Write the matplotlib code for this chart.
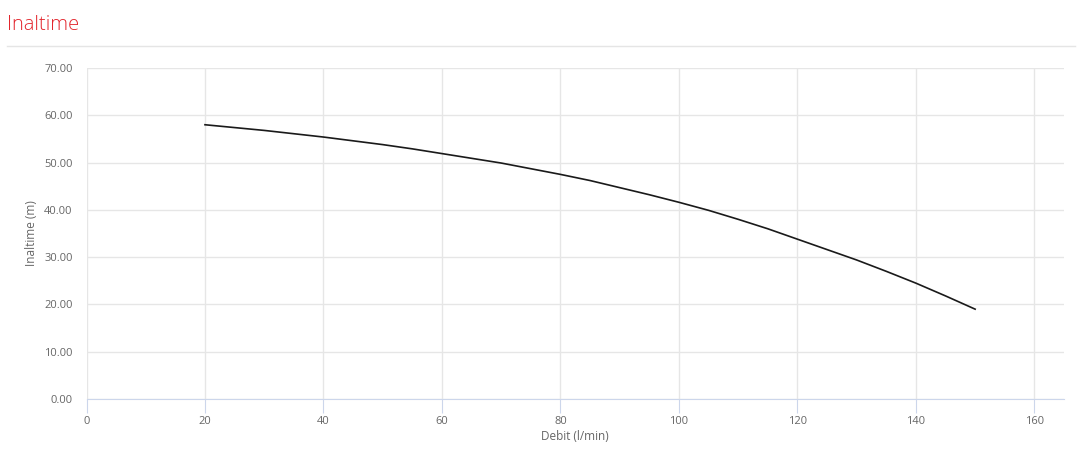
import numpy as np
import matplotlib.pyplot as plt
from matplotlib.lines import Line2D

plt.rcParams['font.family'] = ['Open Sans', 'DejaVu Sans']

debit = [20, 25, 30, 35, 40, 45, 50, 55, 60, 65, 70, 75, 80, 85, 90, 95,
         100, 105, 110, 115, 120, 125, 130, 135, 140, 145, 150]
inaltime = [58.0, 57.4, 56.8, 56.1, 55.4, 54.6, 53.8, 52.9, 51.9, 50.9, 49.9, 48.7,
            47.5, 46.2, 44.7, 43.2, 41.6, 39.9, 38.0, 36.0, 33.8, 31.6, 29.4, 27.0,
            24.5, 21.8, 19.0]
x_ticks = [0, 20, 40, 60, 80, 100, 120, 140, 160]
y_ticks = [0, 10, 20, 30, 40, 50, 60, 70]

W, H = 1082, 462
fig = plt.figure(figsize=(W / 100, H / 100), dpi=100)
ax = fig.add_axes([86.5 / W, 1 - 399 / H, (1064 - 86.5) / W, (399 - 68) / H])

ax.plot(debit, inaltime, color='#1a1a1a', lw=1.2)

ax.set_xlim(0, 165)
ax.set_ylim(0, 70)
ax.set_xticks(x_ticks)
ax.set_yticks(y_ticks)
ax.set_yticklabels(['%.2f' % v for v in y_ticks])
ax.grid(True, color='#e6e6e6', lw=1)
ax.set_axisbelow(True)

for s in ['top', 'right', 'left']:
    ax.spines[s].set_visible(False)
ax.spines['bottom'].set_color('#ccd6eb')
ax.tick_params(axis='x', colors='#666666', length=10, color='#ccd6eb', labelsize=8, pad=2)
ax.tick_params(axis='y', colors='#666666', length=0, labelsize=8, pad=10)

ax.set_xlabel('Debit (l/min)', color='#666666', fontsize=8.5, labelpad=2.5)
ax.set_ylabel('Inaltime (m)', color='#666666', fontsize=8.5, labelpad=4.5)

fig.text(7 / W, 1 - 25 / H, 'Inaltime', color='#e3262d', fontsize=14.5,
         va='center', ha='left', fontweight='light')
fig.add_artist(Line2D([7 / W, 1075 / W], [1 - 45.5 / H, 1 - 45.5 / H],
                      color='#e5e5e5', lw=1, transform=fig.transFigure))

fig.savefig('out.png', dpi=100)
